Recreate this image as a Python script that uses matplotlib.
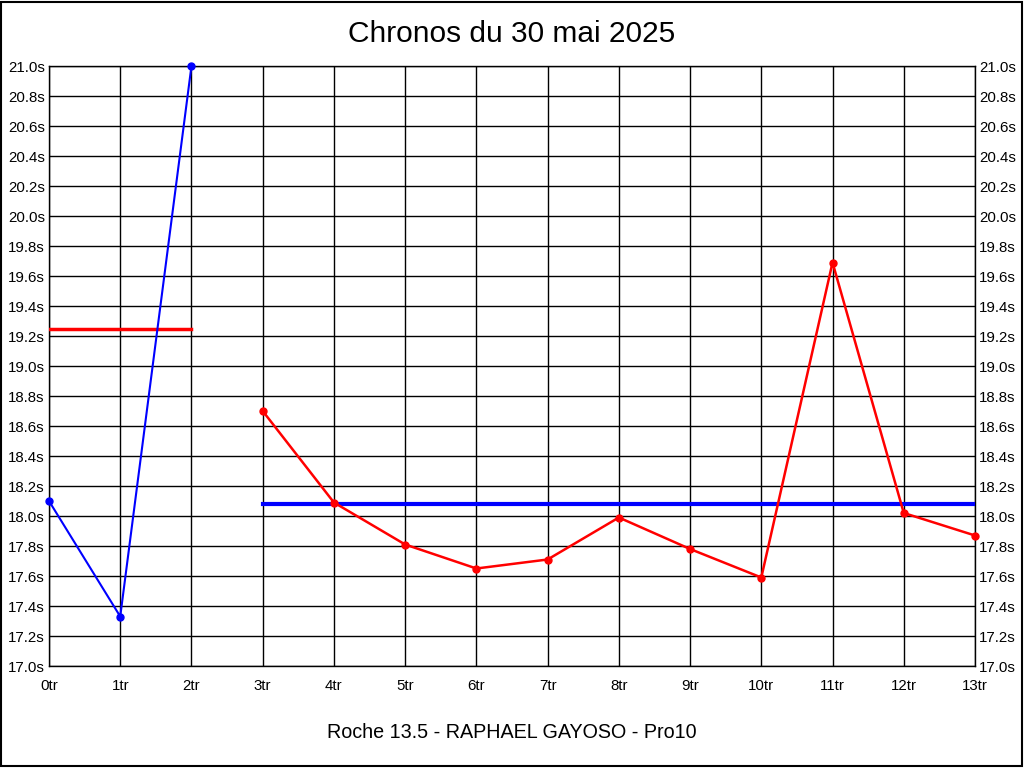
import matplotlib
matplotlib.use("Agg")
import matplotlib.pyplot as plt
from matplotlib.patches import Rectangle
import numpy as np

plt.rcParams['font.family'] = ['Liberation Sans', 'DejaVu Sans']

# tours 0..2 (premiere serie, bleue)
tours_a = [0, 1, 2]
temps_a = [18.10, 17.33, 21.00]
moy_a = 19.25

# tours 3..13 (deuxieme serie, rouge)
tours_b = [3, 4, 5, 6, 7, 8, 9, 10, 11, 12, 13]
temps_b = [18.70, 18.09, 17.81, 17.65, 17.71, 17.99, 17.78, 17.59, 19.69, 18.02, 17.87]
moy_b = 18.08

x_ticks = list(range(14))
y_ticks = np.round(np.arange(17.0, 21.01, 0.2), 1)

fig = plt.figure(figsize=(10.24, 7.68), dpi=100)
ax = fig.add_axes([49/1024, 1 - 666/768, (975-49)/1024, 600/768])

# grille
ax.set_xlim(0, 13)
ax.set_ylim(17.0, 21.0)
ax.set_xticks(x_ticks)
ax.set_xticklabels([f"{t}tr" for t in x_ticks])
ax.set_yticks(y_ticks)
ax.set_yticklabels([f"{v:.1f}s" for v in y_ticks])
ax.grid(True, color='black', linewidth=1)
ax.tick_params(length=0, labelsize=10.8, labelright=True, right=False)
ax.tick_params(axis='x', pad=9)
ax.tick_params(axis='y', pad=3)
for s in ax.spines.values():
    s.set_linewidth(1)

# serie 1
ax.plot(tours_a, temps_a, color='blue', lw=1.5, marker='o', ms=5, clip_on=False, zorder=5)
ax.plot([tours_a[0], tours_a[-1]], [moy_a, moy_a], color='red', lw=2.5, zorder=4)

# serie 2
ax.plot(tours_b, temps_b, color='red', lw=1.8, marker='o', ms=5, clip_on=False, zorder=5)
ax.plot([tours_b[0], tours_b[-1]], [moy_b, moy_b], color='blue', lw=3, zorder=4)

fig.text(0.5, 1 - 34/768, "Chronos du 30 mai 2025", ha='center', va='center', fontsize=21.5)
fig.text(0.5, 1 - 733/768, "Roche 13.5 - RAPHAEL GAYOSO - Pro10", ha='center', va='center', fontsize=14.2)

# cadre autour de l'image
fig.patches.append(Rectangle((0.001, 0.002), 0.997, 0.996, transform=fig.transFigure,
                             fill=False, edgecolor='black', linewidth=1.5))

fig.savefig("out.png", dpi=100)
